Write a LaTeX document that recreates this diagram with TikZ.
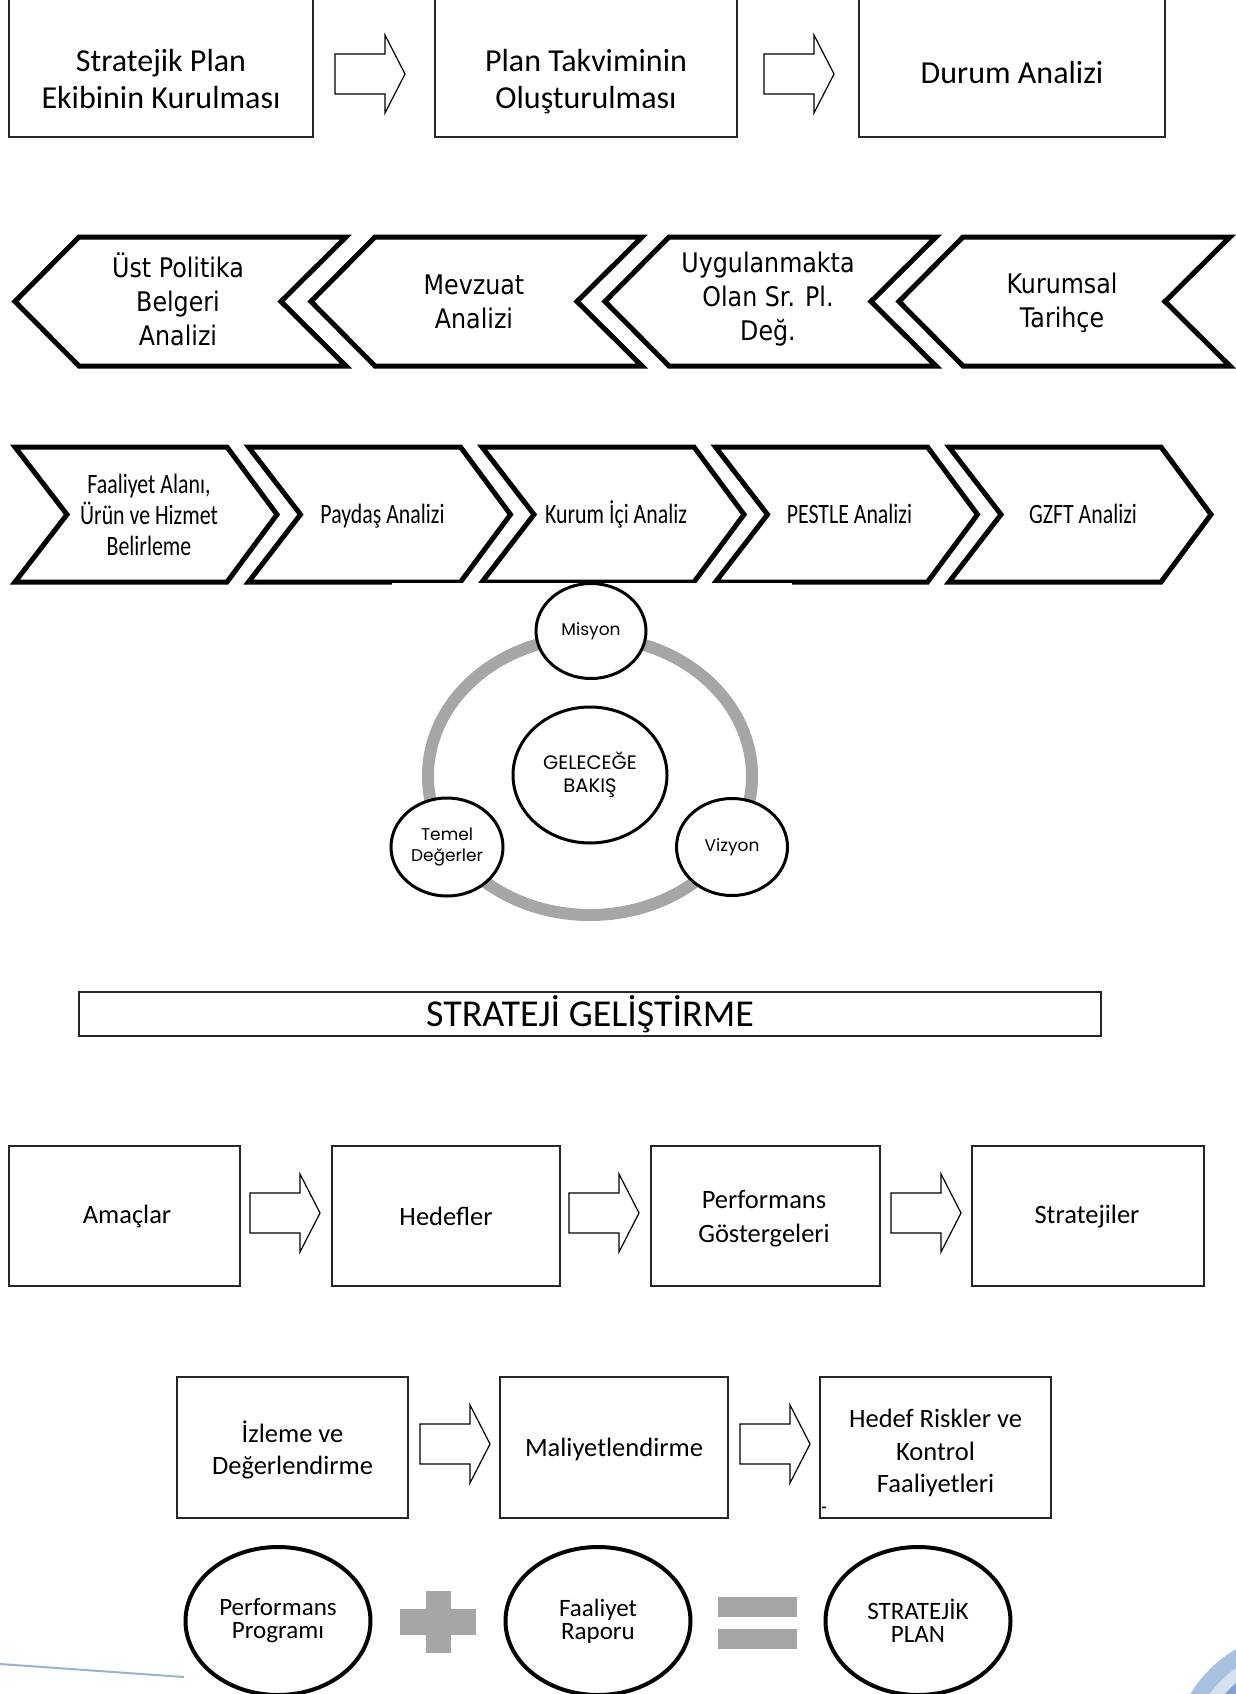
\documentclass[tikz,border=0pt]{standalone}
\usepackage{fontspec}
\setmainfont{Carlito}
\newfontfamily\tahomaf[FakeStretch=0.88]{DejaVu Sans}
\newfontfamily\condf[FakeStretch=0.78]{Carlito}
\newfontfamily\gothf{Poppins}
\usetikzlibrary{shapes.geometric}
\definecolor{ringgray}{HTML}{A6A6A6}
\definecolor{blueA}{HTML}{A9C1E0}
\definecolor{blueB}{HTML}{D5E0F0}
\definecolor{blueC}{HTML}{7FA2D3}
\definecolor{blueline}{HTML}{95B3D7}
\tikzset{
  box/.style={draw=black!85, line width=1.3pt, fill=white, inner sep=0pt, align=center},
  tone/.style={align=center, inner sep=0pt, font=\fontsize{32pt}{37pt}\selectfont},
  tfour/.style={align=center, inner sep=0pt, font=\fontsize{26.5pt}{34pt}\selectfont},
  tfive/.style={align=center, inner sep=0pt, font=\fontsize{26.5pt}{32.5pt}\selectfont},
  chevline/.style={draw=black, line width=5pt, line join=miter, fill=white},
  ttwo/.style={align=center, inner sep=0pt, font=\tahomaf\fontsize{27pt}{34pt}\selectfont},
  tthree/.style={align=center, inner sep=0pt, font=\condf\fontsize{28pt}{31pt}\selectfont},
  circ/.style={ellipse, draw=black, line width=3pt, fill=white, inner sep=0pt, align=center},
  tsmall/.style={font=\gothf\fontsize{17pt}{21pt}\selectfont},
  tbig/.style={font=\gothf\fontsize{19.5pt}{23pt}\selectfont},
  oval/.style={ellipse, draw=black, line width=4pt, fill=white, inner sep=0pt,
    minimum width=185pt, minimum height=148pt, align=center,
    font=\fontsize{25pt}{23pt}\selectfont},
  arrowline/.style={draw=black, line width=1.2pt, fill=white, line join=miter},
  barrow/.pic={\draw[arrowline] (0,-20) -- (50,-20) -- (50,-39) -- (70,0) -- (50,39) -- (50,20) -- (0,20) -- cycle;}
}
\begin{document}
\begin{tikzpicture}[x=1pt,y=-1pt]
\useasboundingbox (0,0) rectangle (1236,1694);
\clip (0,0) rectangle (1236,1694);
\fill[white] (0,0) rectangle (1236,1694);

% ---------- Row 1 ----------
\node[box, minimum width=304pt, minimum height=158pt] (b1) at (161,58) {};
\node[box, minimum width=302pt, minimum height=158pt] (b2) at (586,58) {};
\node[box, minimum width=306pt, minimum height=158pt] (b3) at (1012,58) {};
\node[tone] (t1) at (161,79) {Stratejik Plan\\Ekibinin Kurulması};
\node[tone] (t2) at (586,82) {Plan Takviminin\\Oluşturulması};
\node[tone] (t3) at (1012,73) {Durum Analizi};
\pic at (335,74) {barrow};
\pic at (764,74) {barrow};

% ---------- Row 2 (left chevrons) ----------
\foreach \L in {15,311,605,899}{
  \draw[chevline] (\L,301.5) -- (\L+64,237) -- (\L+331,237) -- (\L+266,301.5)
    -- (\L+331,366) -- (\L+64,366) -- cycle;
}
\node[ttwo] (c21) at (178,299) {Üst Politika\\Belgeri\\Analizi};
\node[ttwo] (c22) at (474,302) {Mevzuat\\Analizi};
\node[ttwo] (c23) at (768,299) {Uygulanmakta\\Olan Sr. Pl.\\Değ.};
\node[ttwo] (c24) at (1062,303) {Kurumsal\\Tarihçe};

% ---------- Row 3 (right chevrons) ----------
\foreach \L in {15,248.5,482,715.5,949}{
  \draw[chevline] (\L,447) -- (\L+212,447) -- (\L+262,514.5) -- (\L+212,582)
    -- (\L,582) -- (\L+52,514.5) -- cycle;
}
\node[tthree] (c31) at (149,515) {Faaliyet Alanı,\\Ürün ve Hizmet\\Belirleme};
\node[tthree] (c32) at (382.5,516) {Paydaş Analizi};
\node[tthree] (c33) at (616,514) {Kurum İçi Analiz};
\node[tthree] (c34) at (849.5,514) {PESTLE Analizi};
\node[tthree] (c35) at (1083,514) {GZFT Analizi};
\fill[white] (392,582.5) rectangle (792,592);

% ---------- Circle diagram ----------
\draw[ringgray, line width=12pt] (590,776) ellipse [x radius=162pt, y radius=139pt];
\node[circ, minimum width=110pt, minimum height=95pt, tsmall] (mis) at (591,631) {Misyon};
\node[circ, minimum width=154pt, minimum height=136pt, tbig] (gel) at (590,775) {GELECEĞE\\BAKIŞ};
\node[circ, minimum width=112pt, minimum height=98pt, tsmall] (tem) at (447,847) {Temel\\Değerler};
\node[circ, minimum width=111pt, minimum height=97pt, tsmall] (viz) at (732,847) {Vizyon};

% ---------- Strateji geliştirme ----------
\node[box, minimum width=1022pt, minimum height=44pt, font=\fontsize{38pt}{38pt}\selectfont] (sg) at (590,1014) {STRATEJİ GELİŞTİRME};

% ---------- Row 4 ----------
\node[box, minimum width=231pt, minimum height=140pt] (amac) at (124.5,1216) {};
\node[box, minimum width=228pt, minimum height=140pt] (hede) at (446,1216) {};
\node[box, minimum width=229pt, minimum height=140pt] (perf) at (765.5,1216) {};
\node[box, minimum width=232pt, minimum height=140pt] (stra) at (1088,1216) {};
\node[tfour] (amact) at (127,1217) {Amaçlar};
\node[tfour] (hedet) at (446,1216) {Hedefler};
\node[tfour] (perft) at (764,1219) {Performans\\Göstergeleri};
\node[tfour] (strat) at (1087,1217) {Stratejiler};
\pic at (250,1213) {barrow};
\pic at (569,1213) {barrow};
\pic at (891,1213) {barrow};

% ---------- Row 5 ----------
\node[box, minimum width=231pt, minimum height=141pt] (izle) at (292.5,1447.5) {};
\node[box, minimum width=228pt, minimum height=141pt] (mali) at (614,1447.5) {};
\node[box, minimum width=231pt, minimum height=141pt] (risk) at (935.5,1447.5) {};
\node[tfive] (izlet) at (292.5,1450) {İzleme ve\\Değerlendirme};
\node[tfive] (malit) at (614,1449) {Maliyetlendirme};
\node[tfive] (riskt) at (935.5,1453) {Hedef Riskler ve\\Kontrol\\Faaliyetleri};
\node[inner sep=0pt, font=\bfseries\fontsize{16pt}{16pt}\selectfont] (dash) at (824,1510) {-};
\pic at (420,1444) {barrow};
\pic at (740,1444) {barrow};

% ---------- Row 6 ----------
\node[oval] (pp) at (278,1621) {Performans\\Programı};
\node[oval] (fr) at (598,1621) {Faaliyet\\Raporu};
\node[oval] (sp) at (918,1621) {STRATEJİK\\PLAN};
\fill[ringgray] (426,1591) rectangle (451,1653);
\fill[ringgray] (400,1609) rectangle (476,1635);
\fill[ringgray] (718,1597) rectangle (797,1617);
\fill[ringgray] (718,1629) rectangle (797,1649);

% ---------- page decorations ----------
\draw[blueline, line width=2pt] (0,1664) -- (184,1677);
\fill[blueA] (1300,1760) circle [radius=128pt];
\fill[blueB] (1300,1760) circle [radius=112pt];
\fill[blueC] (1300,1760) circle [radius=100pt];
\end{tikzpicture}
\end{document}
